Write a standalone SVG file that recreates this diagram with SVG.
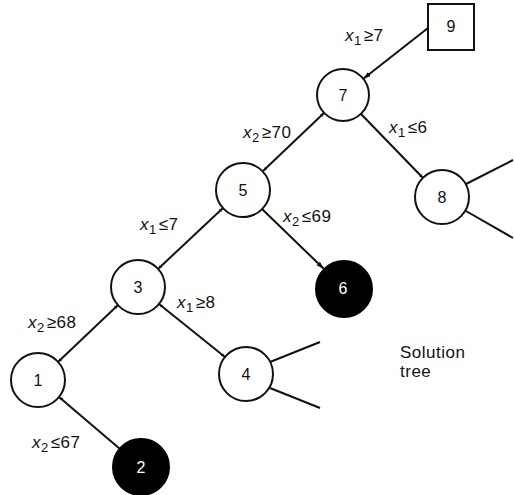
<svg xmlns="http://www.w3.org/2000/svg" width="515" height="495" viewBox="0 0 515 495">
<defs>
<marker id="ah" viewBox="0 0 10 10" refX="10" refY="5" markerWidth="4" markerHeight="4" orient="auto-start-reverse" markerUnits="userSpaceOnUse">
<path d="M0,1 L10,5 L0,9 z" fill="#111"/>
</marker>
<marker id="big" viewBox="0 0 10 10" refX="10" refY="5" markerWidth="8" markerHeight="8" orient="auto" markerUnits="userSpaceOnUse">
<path d="M0,2 L10,5 L0,8 z" fill="#111"/>
</marker>
</defs>
<style>
.n{fill:#fff;stroke:#111;stroke-width:2}
.b{fill:#000;stroke:#000;stroke-width:2}
.t{font-family:"Liberation Sans",Arial,sans-serif;font-size:16px;fill:#111;text-anchor:middle}
.w{fill:#fff}
.e{stroke:#111;stroke-width:2;fill:none}
.l{font-family:"Liberation Sans",Arial,sans-serif;font-size:17px;fill:#111;letter-spacing:0.5px}
.v{font-style:italic}
.s{font-size:13px}
</style>
<rect width="515" height="495" fill="#fff"/>
<g id="edges">
<line class="e" x1="428" y1="28" x2="363" y2="79" marker-end="url(#big)"/>
<line class="e" x1="324" y1="113" x2="263" y2="171" marker-start="url(#ah)" marker-end="url(#ah)"/>
<line class="e" x1="361" y1="114" x2="423" y2="178" marker-end="url(#ah)"/>
<line class="e" x1="262" y1="209" x2="324" y2="269" marker-end="url(#big)"/>
<line class="e" x1="223" y1="208" x2="158" y2="269" marker-start="url(#ah)" marker-end="url(#ah)"/>
<line class="e" x1="118" y1="305" x2="58" y2="362" marker-start="url(#ah)" marker-end="url(#ah)"/>
<line class="e" x1="159" y1="304" x2="225" y2="357" marker-start="url(#ah)" marker-end="url(#ah)"/>
<line class="e" x1="59" y1="397" x2="120" y2="449" marker-start="url(#ah)"/>
<line class="e" x1="466" y1="184" x2="513" y2="160"/>
<line class="e" x1="466" y1="211" x2="513" y2="238"/>
<line class="e" x1="270" y1="362" x2="320" y2="342"/>
<line class="e" x1="270" y1="388" x2="320" y2="408"/>
</g>
<g id="labels">
<text class="l" x="345" y="41"><tspan class="v">x</tspan><tspan class="s" dy="4">1</tspan><tspan dy="-4" dx="2">≥7</tspan></text>
<text class="l" x="243" y="138"><tspan class="v">x</tspan><tspan class="s" dy="4">2</tspan><tspan dy="-4" dx="2">≥70</tspan></text>
<text class="l" x="389" y="133"><tspan class="v">x</tspan><tspan class="s" dy="4">1</tspan><tspan dy="-4" dx="2">≤6</tspan></text>
<text class="l" x="140" y="230"><tspan class="v">x</tspan><tspan class="s" dy="4">1</tspan><tspan dy="-4" dx="2">≤7</tspan></text>
<text class="l" x="283" y="222"><tspan class="v">x</tspan><tspan class="s" dy="4">2</tspan><tspan dy="-4" dx="2">≤69</tspan></text>
<text class="l" x="28" y="328"><tspan class="v">x</tspan><tspan class="s" dy="4">2</tspan><tspan dy="-4" dx="2">≥68</tspan></text>
<text class="l" x="177" y="308"><tspan class="v">x</tspan><tspan class="s" dy="4">1</tspan><tspan dy="-4" dx="2">≥8</tspan></text>
<text class="l" x="32" y="448"><tspan class="v">x</tspan><tspan class="s" dy="4">2</tspan><tspan dy="-4" dx="2">≤67</tspan></text>
<text class="l" x="400" y="358" font-size="14" letter-spacing="0">Solution</text>
<text class="l" x="400" y="377" font-size="14" letter-spacing="0">tree</text>
</g>
<g id="n9"><rect class="n" x="428" y="4" width="46" height="46"/><text class="t" x="451" y="32">9</text></g>
<g id="n7"><circle class="n" cx="343" cy="95" r="26"/><text class="t" x="343" y="101">7</text></g>
<g id="n5"><circle class="n" cx="243" cy="190" r="27"/><text class="t" x="243" y="196">5</text></g>
<g id="n8"><circle class="n" cx="442" cy="197" r="27"/><text class="t" x="442" y="203">8</text></g>
<g id="n6"><circle class="b" cx="344" cy="289" r="28"/><text class="t w" x="343" y="294">6</text></g>
<g id="n3"><circle class="n" cx="138" cy="287" r="27"/><text class="t" x="138" y="293">3</text></g>
<g id="n4"><circle class="n" cx="246" cy="374" r="27"/><text class="t" x="246" y="380">4</text></g>
<g id="n1"><circle class="n" cx="38" cy="380" r="27"/><text class="t" x="38" y="386">1</text></g>
<g id="n2"><circle class="b" cx="141" cy="467" r="28"/><text class="t w" x="141" y="473">2</text></g>
</svg>
